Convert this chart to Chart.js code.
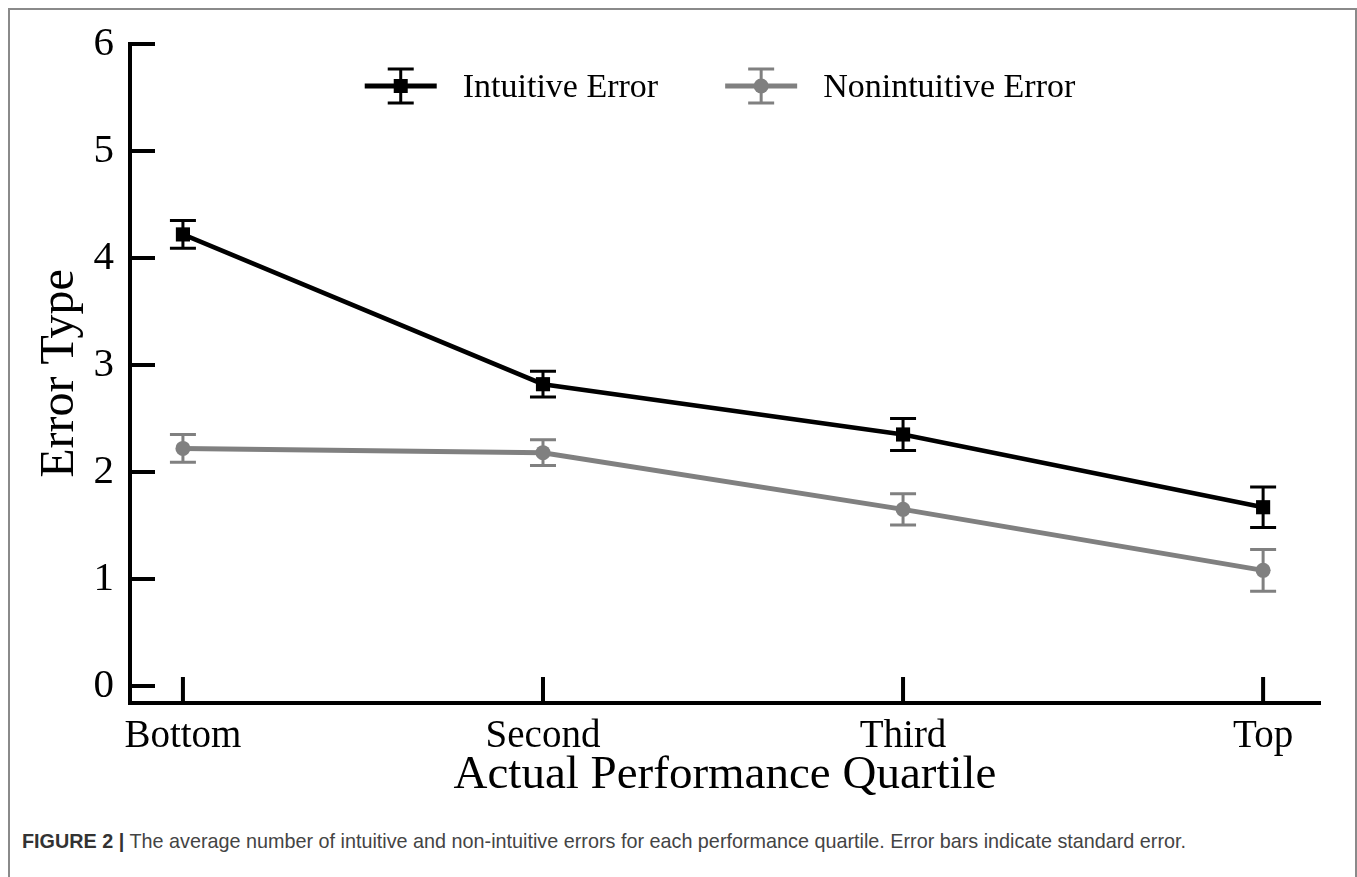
<!DOCTYPE html>
<html>
<head>
<meta charset="utf-8">
<script src="https://cdn.jsdelivr.net/npm/chart.js@4.4.0/dist/chart.umd.min.js"></script>
<style>
    html, body { margin: 0; padding: 0; background: #fff; }
    body { width: 1357px; height: 877px; position: relative; overflow: hidden; }
    #frame {
        position: absolute; left: 8px; top: 8px; width: 1345px; height: 900px;
        border: 2px solid #8a8a8a; border-bottom: none;
    }
    #chart-wrap { position: absolute; left: 0; top: 0; width: 1357px; height: 810px; }
    #caption {
        position: absolute; left: 22px; top: 830px;
        font-family: "Liberation Sans", Arial, sans-serif; font-size: 19.8px; color: #444;
        white-space: nowrap;
    }
    #caption b { color: #333; }
</style>
</head>
<body>
<div id="frame"></div>
<div id="chart-wrap"><canvas id="error-chart"></canvas></div>
<div id="caption"><b>FIGURE 2 |</b> The average number of intuitive and non-intuitive errors for each performance quartile. Error bars indicate standard error.</div>

<script>
// Chart data
const quartiles = ['Bottom', 'Second', 'Third', 'Top'];
const yTicks = [0, 1, 2, 3, 4, 5, 6];
const intuitiveMean = [4.22, 2.82, 2.35, 1.67];
const intuitiveSE = [0.13, 0.12, 0.15, 0.19];
const nonintuitiveMean = [2.22, 2.18, 1.65, 1.08];
const nonintuitiveSE = [0.13, 0.12, 0.145, 0.195];

const serif = '"Liberation Serif", "Times New Roman", serif';

function toPoints(values) {
    return values.map((v, i) => ({ x: i, y: v }));
}

// Draw standard error bars for each dataset
const errorBarsPlugin = {
    id: 'errorBars',
    beforeDatasetsDraw(chart) {
        const ctx = chart.ctx;
        const xScale = chart.scales.x;
        const yScale = chart.scales.y;
        chart.data.datasets.forEach(ds => {
            ctx.save();
            ctx.strokeStyle = ds.borderColor;
            ctx.lineWidth = 3;
            ds.data.forEach((pt, i) => {
                const x = xScale.getPixelForValue(pt.x);
                const yTop = yScale.getPixelForValue(pt.y + ds.errors[i]);
                const yBot = yScale.getPixelForValue(pt.y - ds.errors[i]);
                ctx.beginPath();
                ctx.moveTo(x, yTop);
                ctx.lineTo(x, yBot);
                ctx.moveTo(x - 13, yTop);
                ctx.lineTo(x + 13, yTop);
                ctx.moveTo(x - 13, yBot);
                ctx.lineTo(x + 13, yBot);
                ctx.stroke();
            });
            ctx.restore();
        });
    }
};

// Inward tick marks on both axes
const innerTicksPlugin = {
    id: 'innerTicks',
    afterDraw(chart) {
        const ctx = chart.ctx;
        const area = chart.chartArea;
        const xScale = chart.scales.x;
        const yScale = chart.scales.y;
        ctx.save();
        ctx.strokeStyle = '#000';
        ctx.lineWidth = 4;
        ctx.beginPath();
        yTicks.forEach(v => {
            const y = yScale.getPixelForValue(v);
            ctx.moveTo(area.left, y);
            ctx.lineTo(area.left + 25, y);
        });
        quartiles.forEach((q, i) => {
            const x = xScale.getPixelForValue(i);
            ctx.moveTo(x, area.bottom);
            ctx.lineTo(x, area.bottom - 26);
        });
        ctx.stroke();
        ctx.restore();
    }
};

// Legend with error bar symbols inside the plot
const legendPlugin = {
    id: 'errorLegend',
    afterDraw(chart) {
        const ctx = chart.ctx;
        const area = chart.chartArea;
        const symbolW = 72, textGap = 26, itemGap = 67;
        const cy = 86;
        ctx.save();
        ctx.font = '34px ' + serif;
        const widths = chart.data.datasets.map(ds => ctx.measureText(ds.label).width);
        let total = 0;
        widths.forEach((w, i) => { total += symbolW + textGap + w + (i ? itemGap : 0); });
        let x = (area.left + area.right) / 2 - total / 2 - 5;
        chart.data.datasets.forEach((ds, i) => {
            const mid = x + symbolW / 2;
            ctx.strokeStyle = ds.borderColor;
            ctx.fillStyle = ds.borderColor;
            ctx.lineWidth = 5;
            ctx.beginPath();
            ctx.moveTo(x, cy);
            ctx.lineTo(x + symbolW, cy);
            ctx.stroke();
            ctx.lineWidth = 3;
            ctx.beginPath();
            ctx.moveTo(mid, cy - 17);
            ctx.lineTo(mid, cy + 17);
            ctx.moveTo(mid - 13, cy - 17);
            ctx.lineTo(mid + 13, cy - 17);
            ctx.moveTo(mid - 13, cy + 17);
            ctx.lineTo(mid + 13, cy + 17);
            ctx.stroke();
            if (ds.pointStyle === 'rect') {
                ctx.fillRect(mid - 7, cy - 7, 14, 14);
            } else {
                ctx.beginPath();
                ctx.arc(mid, cy, 7.5, 0, Math.PI * 2);
                ctx.fill();
            }
            ctx.fillStyle = '#000';
            ctx.textBaseline = 'alphabetic';
            ctx.fillText(ds.label, x + symbolW + textGap, cy + 11);
            x += symbolW + textGap + widths[i] + itemGap;
        });
        ctx.restore();
    }
};

const chartCtx = document.getElementById('error-chart').getContext('2d');
window.errorChart = new Chart(chartCtx, {
    type: 'line',
    data: {
        datasets: [{
            label: 'Intuitive Error',
            data: toPoints(intuitiveMean),
            errors: intuitiveSE,
            borderColor: '#000000',
            backgroundColor: '#000000',
            borderWidth: 4.5,
            pointStyle: 'rect',
            pointRadius: 10,
            pointBorderWidth: 0,
            tension: 0
        }, {
            label: 'Nonintuitive Error',
            data: toPoints(nonintuitiveMean),
            errors: nonintuitiveSE,
            borderColor: '#808080',
            backgroundColor: '#808080',
            borderWidth: 5,
            pointStyle: 'circle',
            pointRadius: 7.5,
            pointBorderWidth: 0,
            tension: 0
        }]
    },
    options: {
        responsive: true,
        maintainAspectRatio: false,
        animation: false,
        layout: {
            padding: { top: 44, right: 37, left: 0, bottom: 0 }
        },
        plugins: {
            legend: { display: false },
            tooltip: { enabled: false }
        },
        scales: {
            x: {
                type: 'linear',
                min: -0.147,
                max: 3.158,
                afterBuildTicks: scale => {
                    scale.ticks = quartiles.map((q, i) => ({ value: i }));
                },
                afterFit: scale => { scale.height = 107; },
                grid: { display: false },
                border: { display: true, color: '#000', width: 4 },
                ticks: {
                    color: '#000',
                    padding: 2,
                    maxRotation: 0,
                    font: { family: serif, size: 39 },
                    callback: value => quartiles[value]
                },
                title: {
                    display: true,
                    text: 'Actual Performance Quartile',
                    color: '#000',
                    font: { family: serif, size: 47 },
                    padding: { top: 6, bottom: 6 }
                }
            },
            y: {
                min: -0.16,
                max: 6,
                afterBuildTicks: scale => {
                    scale.ticks = yTicks.map(v => ({ value: v }));
                },
                afterFit: scale => { scale.width = 130; },
                grid: { display: false },
                border: { display: true, color: '#000', width: 4 },
                ticks: {
                    color: '#000',
                    padding: 8,
                    font: { family: serif, size: 41 }
                },
                title: {
                    display: true,
                    text: 'Error Type',
                    color: '#000',
                    font: { family: serif, size: 48 },
                    padding: { top: 32, bottom: 0 }
                }
            }
        }
    },
    plugins: [errorBarsPlugin, innerTicksPlugin, legendPlugin]
});
</script>
</body>
</html>
